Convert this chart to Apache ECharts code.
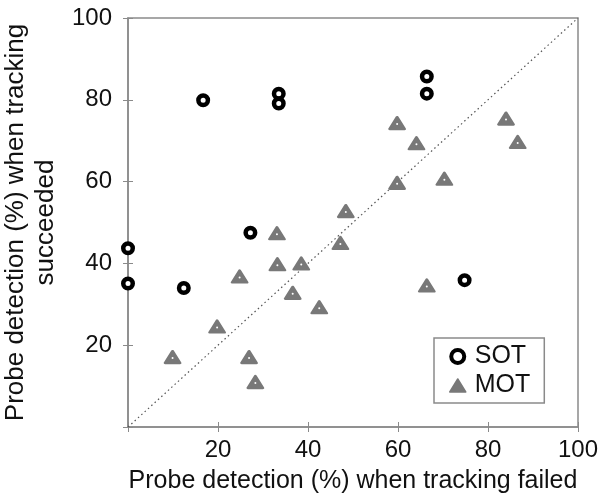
<!DOCTYPE html>
<html><head><meta charset="utf-8">
<script src="https://cdn.jsdelivr.net/npm/echarts@6/dist/echarts.min.js"></script>
<style>html,body{margin:0;padding:0;background:#fff}#c{width:603px;height:495px}</style>
</head><body><div id="c"></div>
<script>
const sotX = [0, 0, 12.4, 27.2, 16.7, 33.5, 33.5, 66.4, 66.4, 74.8];
const sotY = [43.7, 35.1, 34.0, 47.5, 79.9, 81.5, 79.1, 85.7, 81.5, 35.9];
const motX = [59.8, 64.1, 84.0, 86.6, 59.8, 70.3, 48.4, 47.2, 66.4, 33.1, 33.2, 38.5, 24.8, 36.6, 42.5, 19.8, 9.9, 26.9, 28.3];
const motY = [74.3, 69.4, 75.4, 69.7, 59.7, 60.7, 52.8, 45.0, 34.6, 47.4, 39.8, 40.0, 36.8, 32.8, 29.3, 24.6, 17.1, 17.1, 11.0];
const diagX = [0, 100];
const diagY = [0, 100];
const tickVals = [20, 40, 60, 80, 100];
const xTitle = 'Probe detection (%) when tracking failed';
const yTitle = 'Probe detection (%) when tracking\nsucceeded';
const seriesNames = ['SOT', 'MOT'];

const zip = (a, b) => a.map((v, i) => [v, b[i]]);
const font = 'Liberation Sans, Arial, sans-serif';
const frame = '#8a8a8a';
const gray = '#787878';
const lbl = v => tickVals.includes(v) ? String(v) : '';

const chart = echarts.init(document.getElementById('c'));
chart.setOption({
  animation: false,
  backgroundColor: '#fff',
  grid: {left: 128, right: 25, top: 18, bottom: 68, containLabel: false, outerBoundsMode: 'none',
         show: true, borderColor: frame, borderWidth: 1.5},
  legend: {
    left: 434, top: 338, orient: 'vertical',
    data: [
      {name: seriesNames[0], icon: 'circle', itemStyle: {color: '#fff', borderColor: '#000', borderWidth: 4, opacity: 1}},
      {name: seriesNames[1], icon: 'triangle', itemStyle: {color: gray, borderColor: gray, borderWidth: 1.5, opacity: 1}}
    ],
    borderColor: frame, borderWidth: 1.5,
    padding: [6, 14, 5, 15], itemGap: 4,
    itemWidth: 16, itemHeight: 13,
    textStyle: {fontFamily: font, fontSize: 25, color: '#111', padding: [0, 0, 0, 4]}
  },
  xAxis: [{
    type: 'value', min: 0, max: 100, interval: 20,
    axisLine: {show: true, lineStyle: {color: frame, width: 1.5}},
    axisTick: {show: true, inside: true, length: 5, lineStyle: {color: frame}},
    splitLine: {show: false},
    axisLabel: {formatter: lbl, fontFamily: font, fontSize: 24, color: '#111', margin: 11},
    name: xTitle, nameLocation: 'middle', nameGap: 42,
    nameTextStyle: {fontFamily: font, fontSize: 25, color: '#111'}
  }, {
    type: 'value', position: 'top', min: 0, max: 100, interval: 20,
    axisLine: {show: false}, axisLabel: {show: false}, splitLine: {show: false},
    axisTick: {show: true, inside: true, length: 5, lineStyle: {color: frame}}
  }],
  yAxis: [{
    type: 'value', min: 0, max: 100, interval: 20,
    axisLine: {show: true, lineStyle: {color: frame, width: 1.5}},
    axisTick: {show: true, inside: true, length: 5, lineStyle: {color: frame}},
    splitLine: {show: false},
    axisLabel: {formatter: lbl, fontFamily: font, fontSize: 24, color: '#111', margin: 16},
    name: yTitle, nameLocation: 'middle', nameGap: 60, nameRotate: 90,
    nameTextStyle: {fontFamily: font, fontSize: 26, color: '#111', lineHeight: 30}
  }, {
    type: 'value', position: 'right', min: 0, max: 100, interval: 20,
    axisLine: {show: false}, axisLabel: {show: false}, splitLine: {show: false},
    axisTick: {show: true, inside: true, length: 5, lineStyle: {color: frame}}
  }],
  series: [{
    type: 'line', data: zip(diagX, diagY), symbol: 'none', silent: true,
    lineStyle: {color: '#555', width: 1.2, type: [1.5, 3]}, z: 1
  }, {
    name: 'SOT', type: 'scatter', data: zip(sotX, sotY),
    symbol: 'circle', symbolSize: 9.5,
    itemStyle: {color: '#fff', borderColor: '#000', borderWidth: 4.5, opacity: 1}, z: 4
  }, {
    name: 'MOT', type: 'scatter', data: zip(motX, motY),
    symbol: 'triangle', symbolSize: [15, 12],
    itemStyle: {color: gray, borderColor: gray, borderWidth: 2.5, borderJoin: 'round', opacity: 1}, z: 2
  }, {
    type: 'scatter', data: zip(motX, motY), silent: true,
    symbol: 'circle', symbolSize: 2, symbolOffset: [0, 1],
    itemStyle: {color: '#fff', opacity: 1}, z: 3
  }]
});
</script></body></html>
